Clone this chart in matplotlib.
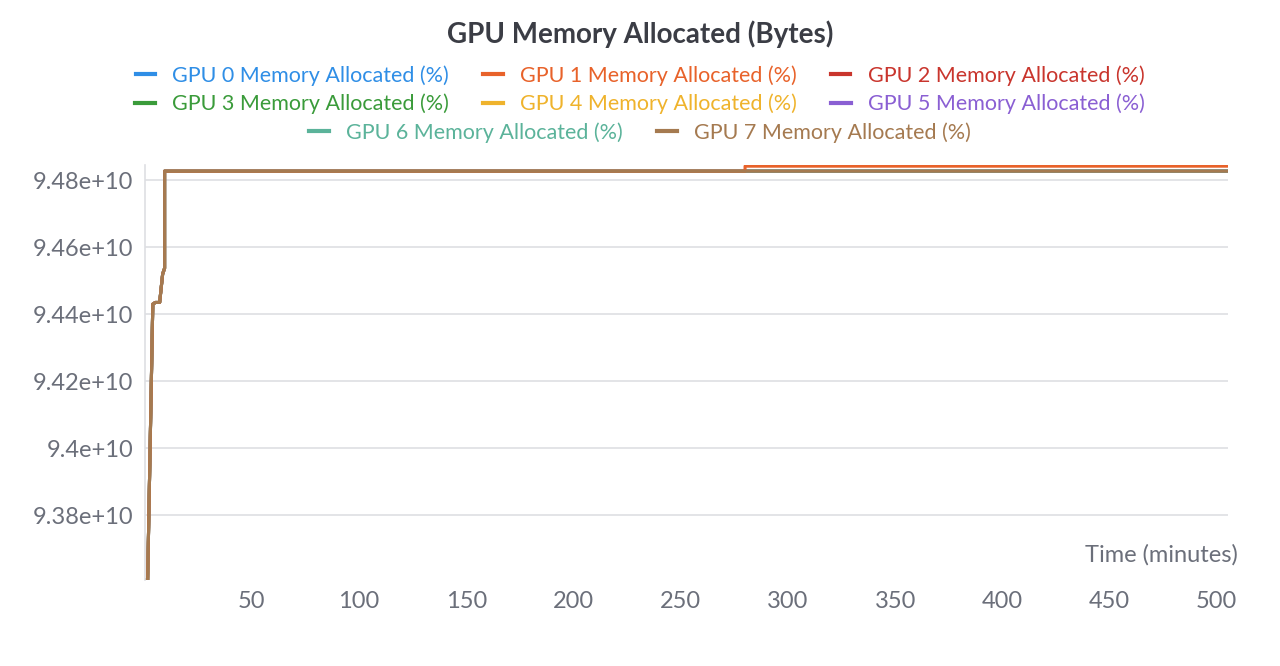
import matplotlib.pyplot as plt

plt.rcParams['font.family'] = ['Lato', 'DejaVu Sans']

names = ['GPU %d Memory Allocated (%%)' % i for i in range(8)]
colors = ['#2f8ee6', '#e8622a', '#c9352d', '#3a9b3a', '#efb32c', '#8a5fd3', '#5bb39a', '#a57a50']

# shared trajectory (minutes, bytes)
t = [1.0, 1.4, 3.8, 5.0, 7.0, 8.4, 9.3, 9.3, 280, 280, 505]
mem = [9.3606e10, 9.3606e10, 9.443e10, 9.4435e10, 9.4435e10, 9.452e10, 9.4537e10,
       9.4827e10, 9.4827e10, 9.4827e10, 9.4827e10]
# GPU 1 steps up slightly at ~280 min
mem_gpu1 = [9.3606e10, 9.3606e10, 9.443e10, 9.4435e10, 9.4435e10, 9.452e10, 9.4537e10,
            9.4827e10, 9.4827e10, 9.4842e10, 9.4842e10]

yticks = [9.38e10, 9.40e10, 9.42e10, 9.44e10, 9.46e10, 9.48e10]
ylabels = ['9.38e+10', '9.4e+10', '9.42e+10', '9.44e+10', '9.46e+10', '9.48e+10']
xticks = [50, 100, 150, 200, 250, 300, 350, 400, 450, 500]

fig = plt.figure(figsize=(12.8, 6.66), dpi=100)
ax = fig.add_axes([0.113, 0.129, 0.846, 0.623])

order = [0, 2, 3, 4, 5, 6, 1, 7]
lines = {}
for i in order:
    y = mem_gpu1 if i == 1 else mem
    lines[i], = ax.plot(t, y, color=colors[i], lw=2.2, label=names[i])

ax.set_xlim(0, 505)
ax.set_ylim(9.3606e10, 9.4845e10)
ax.set_yticks(yticks)
ax.set_yticklabels(ylabels)
ax.set_xticks(xticks)
ax.tick_params(axis='both', labelsize=17, colors='#6b6f7a', length=0, pad=8)
ax.grid(axis='y', color='#dedfe3', lw=1.2)
for s in ['top', 'right', 'bottom']:
    ax.spines[s].set_visible(False)
ax.spines['left'].set_color('#dedfe3')
ax.spines['left'].set_linewidth(1.2)

ax.text(1.01, 0.06, 'Time (minutes)', transform=ax.transAxes, ha='right', va='center',
        fontsize=17, color='#6b6f7a')

fig.text(0.5, 0.948, 'GPU Memory Allocated (Bytes)', ha='center', va='center',
         fontsize=20, fontweight='bold', color='#3b3d45')

# legend rows, each centred
rows = [[0, 1, 2], [3, 4, 5], [6, 7]]
ys = [0.887, 0.844, 0.801]
for r, yy in zip(rows, ys):
    leg = fig.legend([lines[i] for i in r], [names[i] for i in r], loc='center',
                     bbox_to_anchor=(0.5, yy), ncol=len(r), frameon=False, fontsize=15.5,
                     handlelength=0.9, handletextpad=0.8, columnspacing=1.6,
                     borderpad=0, borderaxespad=0)
    for txt, i in zip(leg.get_texts(), r):
        txt.set_color(colors[i])
    for h in leg.legend_handles:
        h.set_linewidth(3)

fig.savefig('out.png', dpi=100)
